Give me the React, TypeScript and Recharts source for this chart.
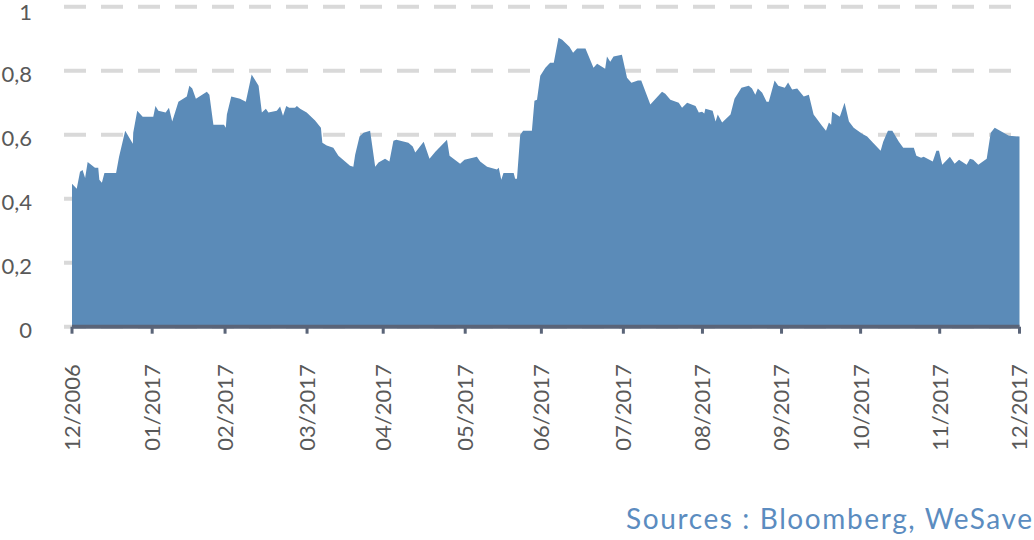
import React from "react";
import { AreaChart, Area, XAxis, YAxis, CartesianGrid, ReferenceLine } from "recharts";

const days = [
  0, 1.3, 2.2, 2.9, 3.6, 4.3, 6.3, 7.2, 7.5, 8.2, 8.9, 12.1, 12.9, 14.6, 16.7, 16.8, 17.9, 19.4, 22.3, 22.9,
  23.7, 25.7, 26.6, 27.5, 29.2, 31.5, 32.2, 33.0, 34.0, 37.0, 37.7, 38.8, 41.7, 42.2, 42.5, 43.7, 46.1, 47.7,
  49.3, 51.2, 52.1, 53.2, 53.9, 56.2, 57.1, 57.9, 58.8, 59.6, 61.2, 61.7, 62.6, 64.4, 66.7, 68.3, 68.7, 69.9,
  71.7, 73.1, 76.3, 77.2, 77.7, 78.9, 80.0, 81.8, 83.2, 84.1, 85.9, 87.1, 88.2, 89.0, 92.3, 93.5, 94.2, 96.5,
  98.1, 99.7, 102.9, 103.6, 106.5, 107.7, 111.1, 112.0, 113.9, 116.6, 117.1, 117.8, 118.4, 121.2, 121.6, 122.1,
  123.0, 123.8, 126.2, 126.9, 127.6, 128.5, 129.9, 131.2, 132.2, 133.5, 134.5, 136.5, 137.5, 138.6, 140.9,
  143.1, 144.1, 146.3, 146.8, 147.7, 148.6, 150.9, 152.3, 153.5, 155.3, 156.2, 158.7, 161.9, 162.8, 164.2,
  166.5, 167.4, 168.8, 171.1, 172.0, 172.9, 173.5, 173.8, 175.8, 176.6, 177.2, 178.4, 180.7, 181.8, 183.7,
  185.7, 186.6, 187.5, 188.2, 189.4, 190.6, 191.2, 192.8, 193.8, 195.6, 196.5, 197.6, 199.0, 200.8, 202.2,
  203.5, 205.8, 206.9, 207.7, 208.3, 208.6, 210.7, 212.0, 213.2, 214.5, 216.8, 218.2, 219.8, 221.9, 222.6,
  223.9, 225.1, 226.9, 228.1, 231.0, 231.7, 233.0, 233.7, 236.2, 237.2, 237.9, 238.8, 240.9, 242.2, 243.4,
  245.5, 246.4, 247.3, 248.7, 251.0, 252.1, 253.2, 257.1, 260,
];

const values = [
  0.447, 0.431, 0.484, 0.49, 0.465, 0.515, 0.497, 0.497, 0.459, 0.45, 0.48, 0.48, 0.53, 0.612, 0.572, 0.606, 0.675, 0.656, 0.656, 0.69,
  0.675, 0.669, 0.684, 0.641, 0.703, 0.719, 0.753, 0.744, 0.712, 0.734, 0.725, 0.631, 0.631, 0.622, 0.663, 0.719, 0.712, 0.703,
  0.788, 0.753, 0.669, 0.681, 0.669, 0.675, 0.688, 0.659, 0.69, 0.684, 0.684, 0.69, 0.681, 0.669, 0.644, 0.622, 0.575, 0.566,
  0.559, 0.534, 0.503, 0.5, 0.537, 0.594, 0.606, 0.612, 0.5, 0.513, 0.525, 0.516, 0.581, 0.584, 0.575, 0.563, 0.544, 0.578,
  0.525, 0.547, 0.584, 0.534, 0.509, 0.522, 0.531, 0.516, 0.5, 0.491, 0.497, 0.459, 0.48, 0.48, 0.462, 0.462,
  0.6, 0.612, 0.612, 0.706, 0.709, 0.784, 0.809, 0.825, 0.825, 0.903, 0.897, 0.875, 0.856, 0.869, 0.869,
  0.809, 0.822, 0.806, 0.844, 0.828, 0.844, 0.85, 0.778, 0.762, 0.769, 0.769, 0.694, 0.734, 0.728, 0.709,
  0.7, 0.684, 0.7, 0.69, 0.669, 0.672, 0.666, 0.681, 0.675, 0.641, 0.663, 0.638, 0.663, 0.712, 0.747,
  0.753, 0.744, 0.725, 0.744, 0.731, 0.703, 0.703, 0.769, 0.753, 0.747, 0.763, 0.741, 0.744, 0.719, 0.725,
  0.663, 0.628, 0.612, 0.638, 0.631, 0.672, 0.656, 0.7, 0.641, 0.622, 0.603, 0.594, 0.575, 0.55, 0.578,
  0.612, 0.612, 0.578, 0.559, 0.559, 0.534, 0.528, 0.531, 0.516, 0.55, 0.55, 0.506, 0.531, 0.509, 0.522,
  0.506, 0.525, 0.522, 0.506, 0.525, 0.606, 0.622, 0.597, 0.594,
];

const monthTicks = [0, 22, 42, 64.5, 85.4, 107.9, 128.8, 151.3, 173, 194.7, 216.4, 238.1, 260];
const monthLabels = [
  "12/2006", "01/2017", "02/2017", "03/2017", "04/2017", "05/2017", "06/2017",
  "07/2017", "08/2017", "09/2017", "10/2017", "11/2017", "12/2017",
];
const yTicks = [0, 0.2, 0.4, 0.6, 0.8, 1];

const data = days.map((d, i) => ({ day: d, value: values[i] }));

const FONT = "Lato, 'DejaVu Sans', sans-serif";
const TEXT = "#595959";
const AXIS = "#5a6478";
const FILL = "#5b8bb8";

const XTick = (props: any) => {
  const { x, y, payload } = props;
  const idx = monthTicks.indexOf(payload.value);
  const label = idx >= 0 ? monthLabels[idx] : "";
  return (
    <text
      transform={`translate(${x}, ${y + 117}) rotate(-90)`}
      textAnchor="start"
      dy="0.36em"
      fill={TEXT}
      fontSize={22}
      fontFamily={FONT}
    >
      {label}
    </text>
  );
};

const YTick = (props: any) => {
  const { x, y, payload } = props;
  return (
    <text x={x} y={y + 3} dy="0.36em" textAnchor="end" fill={TEXT} fontSize={22} fontFamily={FONT}>
      {String(payload.value).replace(".", ",")}
    </text>
  );
};

export default function App() {
  return (
    <div style={{ position: "absolute", left: 0, top: 0, width: 1034, height: 540, background: "#fff" }}>
      <AreaChart
        width={1034}
        height={540}
        data={data}
        margin={{ top: 6.7, right: 14.5, bottom: 0, left: 0 }}
      >
        <CartesianGrid
          vertical={false}
          stroke="#d9d9d9"
          strokeWidth={4}
          strokeDasharray="22 15"
        />
        <XAxis
          dataKey="day"
          type="number"
          domain={[0, 260]}
          ticks={monthTicks}
          interval={0}
          padding={{ left: 8, right: 0 }}
          height={213.3}
          axisLine={false}
          tickLine={{ stroke: AXIS, strokeWidth: 3 }}
          tickSize={7}
          tickMargin={0}
          tick={<XTick />}
        />
        <YAxis
          domain={[0, 1]}
          ticks={yTicks}
          width={64}
          axisLine={false}
          tickLine={false}
          tickSize={0}
          tickMargin={32}
          tick={<YTick />}
        />
        <Area
          type="linear"
          dataKey="value"
          stroke="none"
          fill={FILL}
          fillOpacity={1}
          isAnimationActive={false}
        />
        <ReferenceLine
          segment={[{ x: 0, y: 0 }, { x: 260, y: 0 }]}
          stroke={AXIS}
          strokeWidth={4}
        />
      </AreaChart>
      <svg
        width={1034}
        height={540}
        style={{ position: "absolute", left: 0, top: 0, pointerEvents: "none" }}
      >
        <text
          x={1032}
          y={529}
          textAnchor="end"
          fill="#5b8cc0"
          fontSize={28}
          fontFamily={FONT}
          textLength={406}
          lengthAdjust="spacing"
        >
          Sources : Bloomberg, WeSave
        </text>
      </svg>
    </div>
  );
}
